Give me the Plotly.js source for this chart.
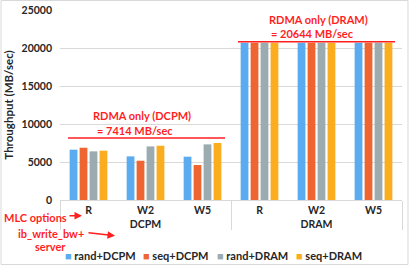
<!DOCTYPE html>
<html>
<head>
<meta charset="utf-8">
<script src="https://cdn.plot.ly/plotly-3.0.1.min.js"></script>
<style>html,body{margin:0;padding:0;background:#fff;}#chart{width:409px;height:267px;}</style>
</head>
<body>
<div id="chart"></div>
<script>
// ---- data ----
var memTypes = ['DCPM', 'DCPM', 'DCPM', 'DRAM', 'DRAM', 'DRAM'];
var mlcOptions = ['R', 'W2', 'W5', 'R', 'W2', 'W5'];
var seriesNames = ['rand+DCPM', 'seq+DCPM', 'rand+DRAM', 'seq+DRAM'];
var randDCPM = [6620, 5740, 5700, 20700, 20700, 20700];
var seqDCPM  = [6880, 5170, 4600, 20700, 20700, 20700];
var randDRAM = [6400, 7050, 7320, 20700, 20700, 20700];
var seqDRAM  = [6490, 7140, 7500, 20700, 20700, 20700];
var yTicks = [0, 5000, 10000, 15000, 20000, 25000];
var dcpmOnlyText = ['RDMA only (DCPM)', '= 7414 MB/sec'];
var dramOnlyText = ['RDMA only (DRAM)', '= 20644 MB/sec'];
var noteTexts = ['MLC options', 'ib_write_bw+', 'server'];

// ---- styling ----
var colors = ['#5aabf0', '#ee6532', '#9babb0', '#f9ad1f'];
var red = '#ff1f1f';
var F = 'Lato, "Liberation Sans", sans-serif';
var allSeries = [randDCPM, seqDCPM, randDRAM, seqDRAM];

var traces = allSeries.map(function (vals, i) {
  return {
    type: 'bar',
    name: seriesNames[i],
    x: [memTypes, mlcOptions],
    y: vals,
    marker: {color: colors[i]},
    showlegend: false,
    hoverinfo: 'y'
  };
});

function ann(text, x, y, size) {
  return {text: text, x: x, y: y, xref: 'paper', yref: 'paper', showarrow: false,
          xanchor: 'center', yanchor: 'middle',
          font: {family: F, size: size || 11, color: red, weight: 'bold'}};
}
function arrow(x, y, ax, ay) {
  return {text: '', x: x, y: y, xref: 'paper', yref: 'paper', showarrow: true,
          ax: ax, ay: ay, arrowhead: 2, arrowsize: 1, arrowwidth: 1.5, arrowcolor: red};
}
// legend entries drawn as annotations (square marker + name)
var legendX = [0.0085, 0.2377, 0.4529, 0.6839];
var legendAnns = seriesNames.map(function (n, i) {
  return {text: '<span style="color:' + colors[i] + '">■</span> ' + n,
          x: legendX[i], y: -0.2895, xref: 'paper', yref: 'paper', showarrow: false,
          xanchor: 'left', yanchor: 'middle',
          font: {family: F, size: 11, color: '#262626', weight: 'bold'}};
});

var layout = {
  width: 409, height: 267,
  margin: {l: 60, r: 7, t: 10, b: 67, autoexpand: false},
  paper_bgcolor: '#fff', plot_bgcolor: '#fff',
  barmode: 'group', bargap: 0.3, bargroupgap: 0.22,
  font: {family: F, size: 10, color: '#262626', weight: 'bold'},
  showlegend: false,
  xaxis: {
    type: 'multicategory', automargin: false,
    showgrid: false, showline: true, linecolor: '#d9d9d9', linewidth: 1,
    ticks: 'outside', ticklen: 6, tickcolor: 'rgba(0,0,0,0)',
    showdividers: true, dividercolor: '#d9d9d9', dividerwidth: 1,
    tickfont: {family: F, size: 10.5, color: '#262626', weight: 'bold'},
    fixedrange: true
  },
  yaxis: {
    range: [0, 25000], tickvals: yTicks, tickformat: 'd', automargin: false,
    showgrid: true, gridcolor: '#d9d9d9', gridwidth: 1, zeroline: false, showline: false,
    ticks: '', ticklabelstandoff: 7,
    tickfont: {family: F, size: 10.5, color: '#262626', weight: 'bold'},
    title: {text: 'Throughput (MB/sec)', standoff: 5,
            font: {family: F, size: 11.5, color: '#262626', weight: 'bold'}},
    fixedrange: true
  },
  shapes: [
    {type: 'line', xref: 'paper', yref: 'y', x0: 0.0234, x1: 0.4825, y0: 8160, y1: 8160,
     line: {color: red, width: 1.5}},
    {type: 'line', xref: 'paper', yref: 'y', x0: 0.5205, x1: 0.9795, y0: 20830, y1: 20830,
     line: {color: red, width: 1.5}},
    {type: 'rect', xref: 'paper', yref: 'paper', x0: -0.1725, x1: 1.0175, y0: -0.3395, y1: 1.0500,
     line: {color: '#d9d9d9', width: 1}, fillcolor: 'rgba(0,0,0,0)', layer: 'below'}
  ],
  annotations: [
    ann(dcpmOnlyText[0], 0.2398, 0.4437),
    ann(dcpmOnlyText[1], 0.2193, 0.3647),
    ann(dramOnlyText[0], 0.7573, 0.9474),
    ann(dramOnlyText[1], 0.7377, 0.8737),
    ann(noteTexts[0], -0.0702, -0.0921),
    ann(noteTexts[1], -0.0249, -0.1789),
    ann(noteTexts[2], -0.0292, -0.2458),
    arrow(0.0643, -0.0826, -14, 0),
    arrow(0.1608, -0.1879, -28, -3)
  ].concat(legendAnns)
};

Plotly.newPlot('chart', traces, layout, {displayModeBar: false, staticPlot: true});
</script>
</body>
</html>
